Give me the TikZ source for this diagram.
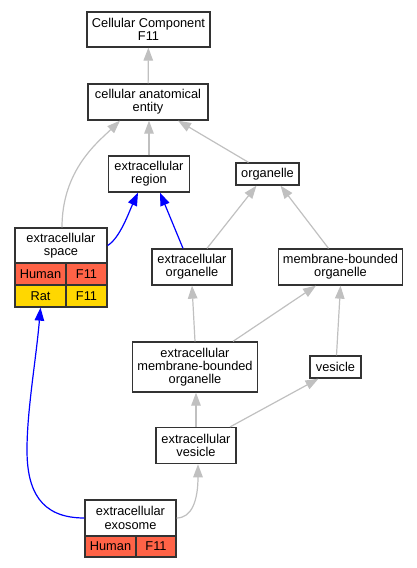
\documentclass[tikz,border=0pt]{standalone}
\usepackage{fontspec}
\setmainfont{Liberation Sans}
\usetikzlibrary{arrows.meta}
\definecolor{edgegray}{HTML}{C0C0C0}
\definecolor{human}{HTML}{FF6347}
\definecolor{rat}{HTML}{FFD700}
\definecolor{border}{HTML}{333333}
\begin{document}
\begin{tikzpicture}[x=1pt,y=-1pt,
  font=\fontsize{12.8}{13.3}\selectfont,
  box/.style={draw=border, line width=1.3pt, fill=white, inner sep=0pt, align=center},
  cell/.style={draw=border, line width=1.3pt, inner sep=0pt, minimum height=22},
  gedge/.style={draw=edgegray, line width=1.2pt, -{Triangle[length=13pt,width=9.5pt]}},
  bedge/.style={draw=blue, line width=1.2pt, -{Triangle[length=13pt,width=9.5pt]}}]
\useasboundingbox (0,0) rectangle (417,568);
\node[box, minimum width=123, minimum height=35] (cc) at (148.5,29.5) {Cellular Component\\F11};
\node[box, minimum width=120, minimum height=36] (cae) at (148,102) {cellular anatomical\\entity};
\node[box, minimum width=81, minimum height=36] (er) at (149,174) {extracellular\\region};
\node[box, minimum width=63, minimum height=22] (org) at (267.5,174) {organelle};
\node[box, minimum width=92, minimum height=35] (es) at (61,245.5) {extracellular\\space};
\node[cell, fill=human, minimum width=51] (esh) at (40.5,274.3) {Human};
\node[cell, fill=human, minimum width=41] (esf) at (86.5,274.3) {F11};
\node[cell, fill=rat, minimum width=51] (esr) at (40.5,296) {Rat};
\node[cell, fill=rat, minimum width=41] (esrf) at (86.5,296) {F11};
\node[box, minimum width=80, minimum height=36] (eo) at (192,267) {extracellular\\organelle};
\node[box, minimum width=124, minimum height=36] (mbo) at (340.5,267) {membrane-bounded\\organelle};
\node[box, minimum width=124.6, minimum height=50] (embo) at (195,367) {extracellular\\membrane-bounded\\organelle};
\node[box, minimum width=51, minimum height=22] (ves) at (335.5,367) {vesicle};
\node[box, minimum width=80, minimum height=36] (ev) at (196,445.6) {extracellular\\vesicle};
\node[box, minimum width=91, minimum height=36] (ee) at (130.5,518) {extracellular\\exosome};
\node[cell, fill=human, minimum width=51, minimum height=21] (eeh) at (110.5,546.5) {Human};
\node[cell, fill=human, minimum width=40, minimum height=21] (eef) at (156,546.5) {F11};
% edges
\draw[gedge] (cae) -- (cc);
\draw[gedge] (er.north) -- ([xshift=1pt]cae.south);
\draw[gedge] ([xshift=-19pt]org.north) -- ([xshift=30pt]cae.south);
\draw[gedge] ([xshift=1pt]es.north) .. controls (62,170) and (98,142) .. ([xshift=-28pt]cae.south);
\draw[bedge] ([xshift=-9pt]eo.north) -- ([xshift=11pt]er.south);
\draw[bedge] (es.east) .. controls (120,238) and (129,212) .. ([xshift=-11pt]er.south);
\draw[gedge] ([xshift=15pt]eo.north) -- ([xshift=-11pt]org.south);
\draw[gedge] ([xshift=-12pt]mbo.north) -- ([xshift=13pt]org.south);
\draw[gedge] (embo.north) -- (eo.south);
\draw[gedge] ([xshift=38pt]embo.north) -- ([xshift=-24.5pt]mbo.south);
\draw[gedge] ([xshift=1pt]ves.north) -- (mbo.south);
\draw[gedge] (ev.north) -- ([xshift=1pt]embo.south);
\draw[gedge] ([xshift=34pt]ev.north) -- ([xshift=-17pt]ves.south);
\draw[gedge] (ee.east) .. controls (192,518) and (198,500) .. ([xshift=2pt]ev.south);
\draw[bedge] (ee.west) .. controls (40,518) and (27,490) .. (27,450) .. controls (27,410) and (36,360) .. (esr.south);
\end{tikzpicture}
\end{document}
